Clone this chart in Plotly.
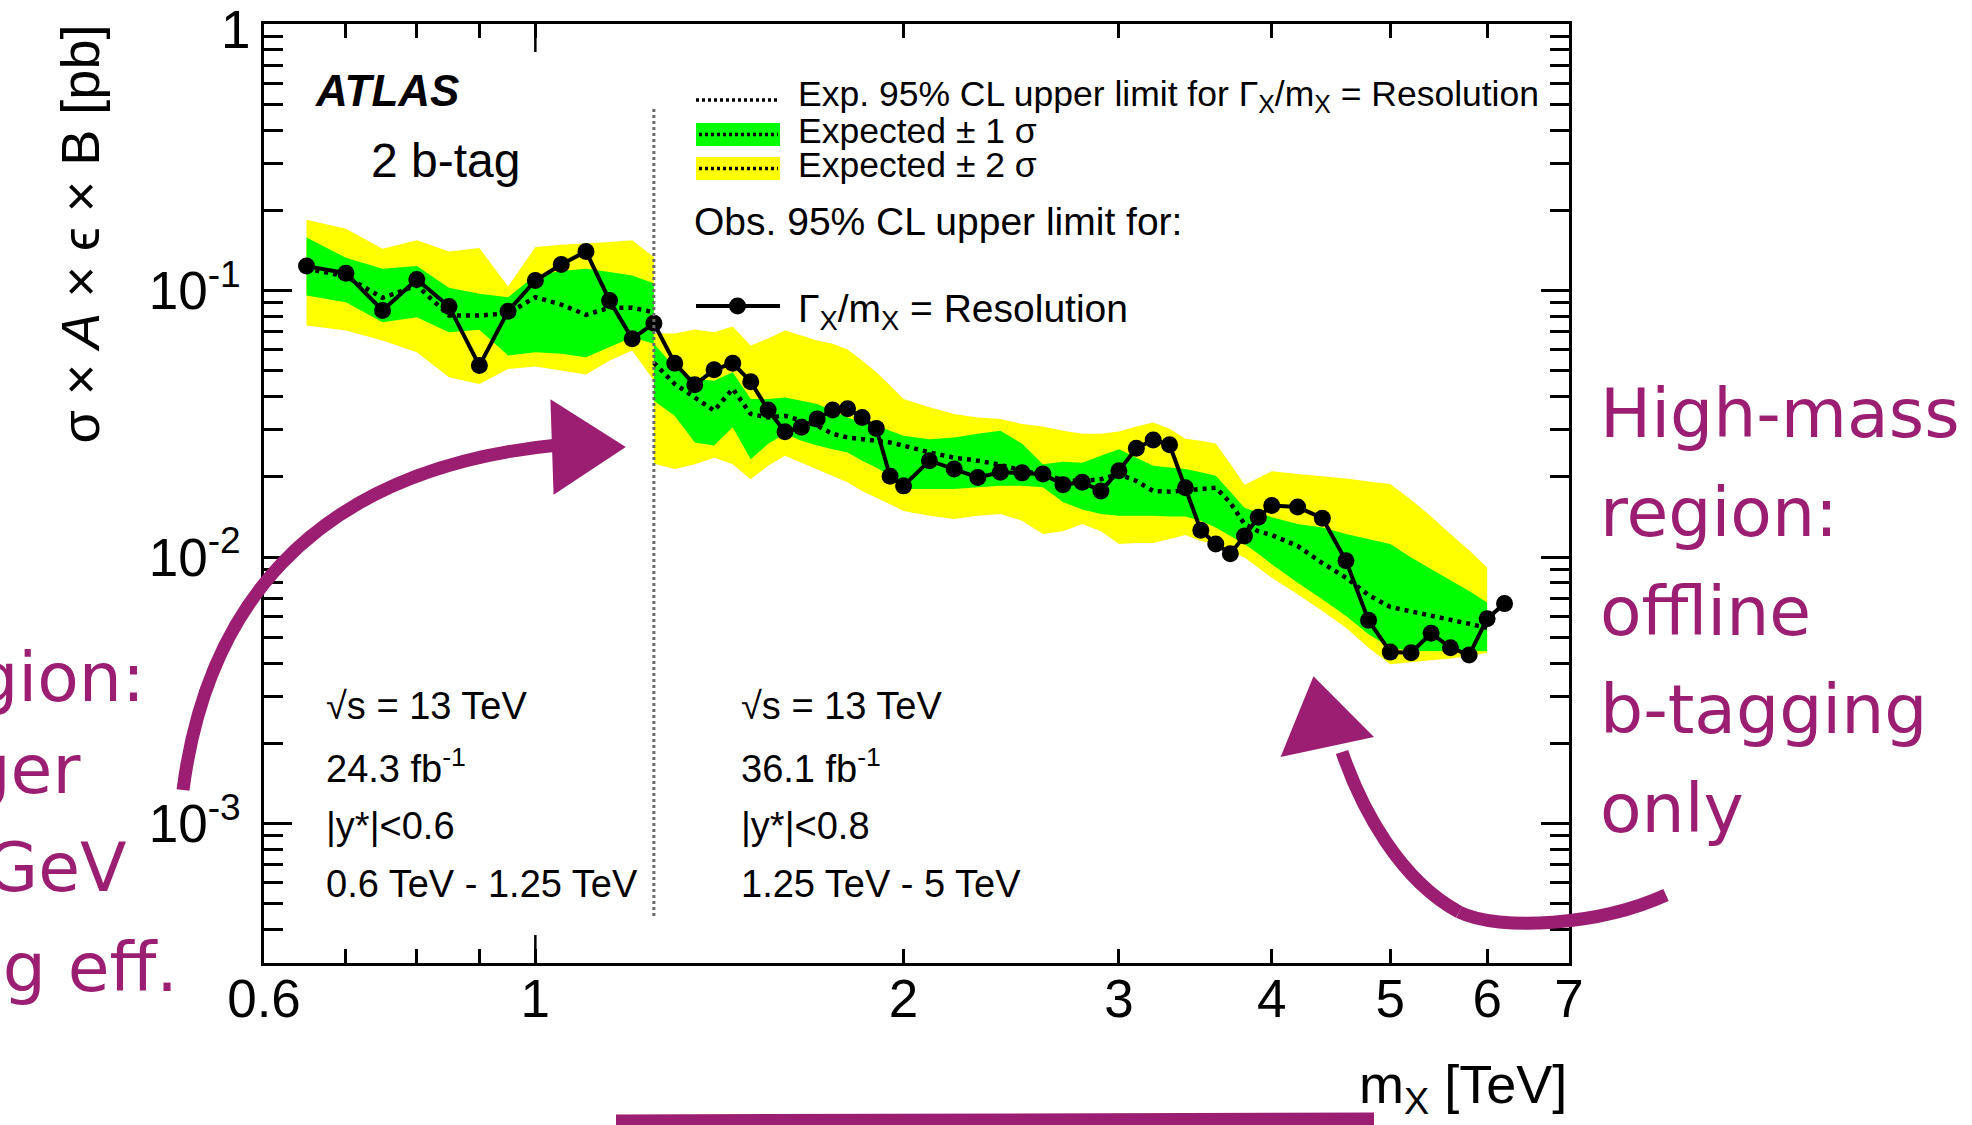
import math
import plotly.graph_objects as go

# ---------------- data ----------------
# low-mass region (trigger-level selection), m_X in TeV, limits in pb
mass_low = [0.65, 0.70, 0.75, 0.80, 0.85, 0.90, 0.95, 1.00, 1.05, 1.10, 1.15, 1.20, 1.25]
exp_low = [0.1208, 0.1130, 0.0939, 0.1045, 0.0806, 0.0806, 0.0822, 0.0944, 0.0886, 0.0811, 0.0862, 0.0862, 0.0829]
exp_low_p1 = [0.158, 0.1328, 0.1208, 0.1235, 0.1024, 0.0972, 0.0944, 0.1139, 0.1183, 0.1208, 0.1173, 0.1139, 0.1066]
exp_low_m1 = [0.0958, 0.0904, 0.0761, 0.0794, 0.0698, 0.0712, 0.0570, 0.0587, 0.0579, 0.0562, 0.0613, 0.0668, 0.0631]
exp_low_p2 = [0.1845, 0.1707, 0.1436, 0.1543, 0.1402, 0.1443, 0.1036, 0.1456, 0.1486, 0.1499, 0.1520, 0.1543, 0.1335]
exp_low_m2 = [0.0739, 0.0708, 0.0649, 0.0587, 0.0473, 0.0446, 0.0508, 0.0519, 0.0501, 0.0484, 0.0546, 0.0596, 0.0459]

# high-mass region (offline b-tagging)
mass_high = [1.25, 1.30, 1.35, 1.40, 1.45, 1.50, 1.55, 1.60, 1.65, 1.70, 1.75, 1.80, 1.85, 1.90, 1.95,
             2.0, 2.1, 2.2, 2.3, 2.4, 2.5, 2.6, 2.7, 2.8, 2.9, 3.0, 3.1, 3.2, 3.3, 3.4, 3.5, 3.6, 3.7,
             3.8, 3.9, 4.0, 4.2, 4.4, 4.6, 4.8, 5.0, 5.2, 5.4, 5.6, 5.8, 6.0]
exp_high = [0.0536, 0.0446, 0.0397, 0.0354, 0.0428, 0.0344, 0.0334, 0.0339, 0.0325, 0.0311, 0.0290, 0.0281, 0.0277, 0.0273, 0.0269,
            0.0262, 0.0247, 0.0236, 0.0230, 0.0222, 0.0211, 0.0204, 0.0195, 0.0193, 0.0196, 0.0205, 0.0193, 0.0177, 0.0176, 0.0178, 0.0180, 0.0182, 0.0160,
            0.0133, 0.0125, 0.0121, 0.0110, 0.0095, 0.00837, 0.00720, 0.00650, 0.00624, 0.00601, 0.00579, 0.00562, 0.00543]
exp_high_p1 = [0.0631, 0.0515, 0.0466, 0.0459, 0.0494, 0.0392, 0.0392, 0.0397, 0.0386, 0.0375, 0.0354, 0.0334, 0.0320, 0.0311, 0.0298,
               0.0285, 0.0277, 0.0281, 0.0290, 0.0298, 0.0266, 0.0223, 0.0228, 0.0226, 0.0240, 0.0254, 0.0236, 0.0220, 0.0217, 0.0214, 0.0208, 0.0202, 0.0176,
               0.0153, 0.0147, 0.0141, 0.0133, 0.0129, 0.0122, 0.0117, 0.0112, 0.00996, 0.00901, 0.00814, 0.00746, 0.00675]
exp_high_m1 = [0.0386, 0.0339, 0.0269, 0.0262, 0.0307, 0.0233, 0.0266, 0.0290, 0.0273, 0.0262, 0.0254, 0.0247, 0.0230, 0.0217, 0.0202,
               0.0180, 0.0180, 0.0180, 0.0183, 0.0185, 0.0185, 0.0183, 0.0161, 0.0151, 0.0145, 0.0143, 0.0143, 0.0143, 0.0142, 0.0142, 0.0137, 0.0129, 0.0120,
               0.0112, 0.0103, 0.0094, 0.00802, 0.00695, 0.00601, 0.00513, 0.00457, 0.00444, 0.00444, 0.00443, 0.00443, 0.00444]
exp_high_p2 = [0.0690, 0.0690, 0.0714, 0.0698, 0.0733, 0.0622, 0.0661, 0.0708, 0.0678, 0.0649, 0.0631, 0.0601, 0.0546, 0.0494, 0.0440,
               0.0392, 0.0365, 0.0344, 0.0334, 0.0330, 0.0316, 0.0309, 0.0298, 0.0290, 0.0290, 0.0296, 0.0309, 0.0320, 0.0303, 0.0278, 0.0273, 0.0267, 0.0224,
               0.0187, 0.0198, 0.0210, 0.0205, 0.0201, 0.0197, 0.0192, 0.0188, 0.0164, 0.0142, 0.0122, 0.0106, 0.00913]
exp_high_m2 = [0.0224, 0.0214, 0.0223, 0.0236, 0.0223, 0.0196, 0.0220, 0.0240, 0.0226, 0.0214, 0.0202, 0.0191, 0.0177, 0.0167, 0.0158,
               0.0149, 0.0143, 0.0139, 0.0143, 0.0145, 0.0137, 0.0122, 0.0125, 0.0133, 0.0125, 0.0112, 0.0113, 0.0113, 0.0117, 0.0121, 0.0115, 0.0112, 0.0105,
               0.00996, 0.00913, 0.00837, 0.00726, 0.00628, 0.00543, 0.00457, 0.00396, 0.00404, 0.00410, 0.00416, 0.00425, 0.00438]

# observed limit, Gamma_X/m_X = resolution
mass_obs = [0.65, 0.70, 0.75, 0.80, 0.85, 0.90, 0.95, 1.00, 1.05, 1.10, 1.15, 1.20, 1.25,
            1.30, 1.35, 1.40, 1.45, 1.50, 1.55, 1.60, 1.65, 1.70, 1.75, 1.80, 1.85, 1.90, 1.95,
            2.0, 2.1, 2.2, 2.3, 2.4, 2.5, 2.6, 2.7, 2.8, 2.9, 3.0, 3.1, 3.2, 3.3, 3.4, 3.5, 3.6, 3.7,
            3.8, 3.9, 4.0, 4.2, 4.4, 4.6, 4.8, 5.0, 5.2, 5.4, 5.6, 5.8, 6.0, 6.2]
obs_limit = [0.1235, 0.1162, 0.0842, 0.1101, 0.0872, 0.0523, 0.0837, 0.1091, 0.1253, 0.1402, 0.0918, 0.0659, 0.0754,
             0.0534, 0.0443, 0.0504, 0.0534, 0.0455, 0.0356, 0.0295, 0.0307, 0.0330, 0.0356, 0.0360, 0.0334, 0.0304, 0.0201,
             0.0185, 0.0230, 0.0214, 0.0199, 0.0208, 0.0207, 0.0205, 0.0187, 0.0191, 0.0177, 0.0211, 0.0256, 0.0275, 0.0264, 0.0182, 0.0126, 0.0112, 0.0103,
             0.0120, 0.0141, 0.0156, 0.0154, 0.0140, 0.00968, 0.00579, 0.00440, 0.00438, 0.00518, 0.00457, 0.00429, 0.00587, 0.00669]

boundary_mass = 1.25
boundary_span = [4.5e-4, 0.48]

x_range = [0.6, 7.0]
y_range = [3e-4, 1.0]
x_ticks = [0.6, 1, 2, 3, 4, 5, 6, 7]
x_ticktext = ["0.6", "1", "2", "3", "4", "5", "6", "7"]
x_minor = [0.7, 0.8, 0.9]
y_ticks = [1e-3, 1e-2, 1e-1]
y_ticktext = ["10<sup>-3</sup>", "10<sup>-2</sup>", "10<sup>-1</sup>"]
y_top_label = "1"          # label of the frame's top edge (y = 1 pb)

# ---------------- layout helpers ----------------
W, H = 1972, 1125
L, R, T, B = 264, 1569, 24, 963          # plot frame edges (px)
FONT = "Liberation Sans, Arial, Helvetica, sans-serif"
HAND = "DejaVu Sans, sans-serif"
INK = "#9c1e72"
YELLOW, GREEN = "#ffff00", "#00ff00"


def fx(x):
    return (x - L) / (R - L)


def fy(y):
    return (B - y) / (B - T)


def xfrac(v):
    lo, hi = math.log10(x_range[0]), math.log10(x_range[1])
    return (math.log10(v) - lo) / (hi - lo)


fig = go.Figure()


def band(x, lo, hi, color):
    fig.add_trace(go.Scatter(x=x + x[::-1], y=hi + lo[::-1], mode="lines", fill="toself",
                             fillcolor=color, line=dict(width=0, color=color),
                             hoverinfo="skip", showlegend=False))


band(mass_low, exp_low_m2, exp_low_p2, YELLOW)
band(mass_low, exp_low_m1, exp_low_p1, GREEN)
band(mass_high, exp_high_m2, exp_high_p2, YELLOW)
band(mass_high, exp_high_m1, exp_high_p1, GREEN)

for xs, ys in ((mass_low, exp_low), (mass_high, exp_high)):
    fig.add_trace(go.Scatter(x=xs, y=ys, mode="lines", showlegend=False,
                             line=dict(color="black", width=4.5, dash="4px,5px")))

fig.add_trace(go.Scatter(x=mass_obs, y=obs_limit, mode="lines+markers", showlegend=False,
                         line=dict(color="black", width=4),
                         marker=dict(color="black", size=17)))

fig.add_trace(go.Scatter(x=[boundary_mass, boundary_mass], y=boundary_span, mode="lines",
                         showlegend=False, line=dict(color="#6a6a6a", width=3, dash="3px,3px")))

axis_common = dict(showline=True, linecolor="black", linewidth=2.5, mirror="allticks",
                   ticks="inside", tickcolor="black", tickwidth=2.5, automargin=False,
                   showgrid=False, zeroline=False, ticklabeloverflow="allow",
                   tickfont=dict(family=FONT, size=53, color="black"))

y_minor = [m * 10 ** e for e in (-4, -3, -2, -1) for m in range(2, 10)
           if y_range[0] <= m * 10 ** e < y_range[1]]

fig.update_xaxes(type="log", range=[math.log10(x_range[0]), math.log10(x_range[1])],
                 tickvals=x_ticks, ticktext=x_ticktext, ticklen=14, ticklabelstandoff=-12,
                 minor=dict(tickvals=x_minor, ticklen=14, tickwidth=2.5, tickcolor="black", ticks="inside"),
                 **axis_common)
fig.update_yaxes(type="log", range=[math.log10(y_range[0]), math.log10(y_range[1])],
                 tickvals=y_ticks, ticktext=y_ticktext, ticklen=28, ticklabelstandoff=10,
                 minor=dict(tickvals=y_minor, ticklen=19, tickwidth=2.5, tickcolor="black", ticks="inside"),
                 **axis_common)

shapes = []
# long major tick at m_X = 1 TeV (bottom and top)
tick_h = 28 / (B - T)
for y0, y1 in ((0, tick_h), (1, 1 - tick_h)):
    shapes.append(dict(type="line", xref="paper", yref="paper", x0=xfrac(1), x1=xfrac(1),
                       y0=y0, y1=y1, line=dict(color="black", width=2.5)))

# legend symbols
shapes.append(dict(type="line", xref="paper", yref="paper", x0=fx(696), x1=fx(779), y0=fy(100), y1=fy(100),
                   line=dict(color="black", width=3.5, dash="3px,3px")))
for (ytop, ybot, col) in ((123, 146, GREEN), (157, 180, YELLOW)):
    shapes.append(dict(type="rect", xref="paper", yref="paper", x0=fx(696), x1=fx(780), y0=fy(ybot), y1=fy(ytop),
                       fillcolor=col, line=dict(width=0)))
    ym = (ytop + ybot) / 2
    shapes.append(dict(type="line", xref="paper", yref="paper", x0=fx(699), x1=fx(778), y0=fy(ym), y1=fy(ym),
                       line=dict(color="black", width=3.5, dash="3px,3px")))
shapes.append(dict(type="line", xref="paper", yref="paper", x0=fx(696), x1=fx(780), y0=fy(306), y1=fy(306),
                   line=dict(color="black", width=4)))
shapes.append(dict(type="circle", xref="paper", yref="paper", x0=fx(729), x1=fx(746), y0=fy(314.5), y1=fy(297.5),
                   fillcolor="black", line=dict(width=0)))


def path(points, cmd="C"):
    p0 = points[0]
    s = f"M{fx(p0[0])},{fy(p0[1])} {cmd}"
    s += " ".join(f"{fx(x)},{fy(y)}" for x, y in points[1:])
    return s


def tri(a, b, c):
    return "M" + " L".join(f"{fx(x)},{fy(y)}" for x, y in (a, b, c)) + " Z"


# hand-drawn arrows and underline
stroke = dict(color=INK, width=13)
shapes.append(dict(type="path", xref="paper", yref="paper", layer="above", line=stroke,
                   path=path([(183, 790), (205, 620), (300, 470), (558, 445)])))
shapes.append(dict(type="path", xref="paper", yref="paper", layer="above", fillcolor=INK,
                   line=dict(color=INK, width=3), path=tri((552, 402), (623, 447), (555, 492))))
shapes.append(dict(type="path", xref="paper", yref="paper", layer="above", line=stroke,
                   path=path([(1666, 895), (1600, 925), (1500, 932), (1459, 912)])))
shapes.append(dict(type="path", xref="paper", yref="paper", layer="above", line=stroke,
                   path=path([(1459, 912), (1400, 880), (1362, 810), (1342, 752)])))
shapes.append(dict(type="path", xref="paper", yref="paper", layer="above", fillcolor=INK,
                   line=dict(color=INK, width=3), path=tri((1283, 755), (1314, 679), (1371, 736))))
shapes.append(dict(type="line", xref="paper", yref="paper", layer="above", x0=fx(616), x1=fx(1374),
                   y0=fy(1123), y1=fy(1121), line=dict(color=INK, width=17)))

annotations = []


def text(x, y, s, size, xanchor="left", yanchor="middle", family=FONT, color="black", angle=0):
    annotations.append(dict(x=fx(x), y=fy(y), xref="paper", yref="paper", text=s, showarrow=False,
                            xanchor=xanchor, yanchor=yanchor, textangle=angle,
                            font=dict(family=family, size=size, color=color)))


# top-edge y label, set slightly below the corner so it stays on the page
text(252, 30, y_top_label, 53, xanchor="right")

text(313, 91, "<b><i>ATLAS</i></b>", 44)
text(369, 161, "2 b-tag", 48)

text(796, 96, "Exp. 95% CL upper limit for Γ<sub>X</sub>/m<sub>X</sub> = Resolution", 35.5)
text(796, 131, "Expected ± 1 σ", 35.5)
text(796, 165, "Expected ± 2 σ", 35.5)
text(692, 222, "Obs. 95% CL upper limit for:", 39)
text(796, 311, "Γ<sub>X</sub>/m<sub>X</sub> = Resolution", 39)

for x0, lumi, ycut, mrange in ((324, "24.3", "0.6", "0.6 TeV - 1.25 TeV"),
                               (739, "36.1", "0.8", "1.25 TeV - 5 TeV")):
    text(x0, 706, "√s = 13 TeV", 38)
    text(x0, 766, f"{lumi} fb<sup>-1</sup>", 38)
    text(x0, 826, f"|y*|&lt;{ycut}", 38)
    text(x0, 884, mrange, 38)

# axis titles
text(1569, 1088, "m<sub>X</sub> [TeV]", 54, xanchor="right")
text(80, 23, "σ × <i>A</i> × ϵ × B [pb]", 54, xanchor="center", yanchor="top", angle=-90)

# handwritten notes
for i, line in enumerate(["High-mass", "region:", "offline", "b-tagging", "only"]):
    text(1598, 440 + 98.5 * i - 26, line, 68, family=HAND, color=INK)
for xe, yb, line in ((147, 694, "Low-mass region:"), (82, 786, "b-jet trigger"),
                     (128, 884, "jets > 150 GeV"), (180, 984, "lower b-tagging eff.")):
    text(xe, yb - 17, line, 68, xanchor="right", family=HAND, color=INK)

fig.update_layout(width=W, height=H, margin=dict(l=L, r=W - R, t=T, b=H - B, pad=0, autoexpand=False),
                  paper_bgcolor="white", plot_bgcolor="white",
                  shapes=shapes, annotations=annotations, showlegend=False)

fig.write_html("out.html")
